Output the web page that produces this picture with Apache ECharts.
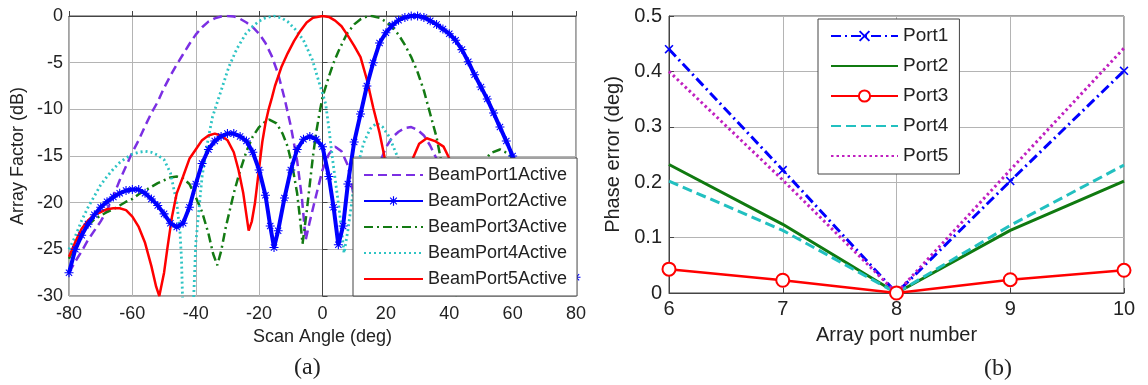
<!DOCTYPE html>
<html>
<head>
<meta charset="utf-8">
<script src="https://cdn.jsdelivr.net/npm/echarts@6/dist/echarts.min.js"></script>
<style>
html,body{margin:0;padding:0;background:#fff;}
#c{width:1148px;height:385px;}
</style>
</head>
<body>
<div id="c"></div>
<script>
// ---------- (a) Array factor vs scan angle : [angle (deg), AF (dB)] ----------
const beamNames = ['BeamPort1Active','BeamPort2Active','BeamPort3Active','BeamPort4Active','BeamPort5Active'];

const beamPort1 = [[-80,-27.5],[-78,-26.3],[-76,-25.2],[-74,-24],[-72,-23],[-70,-22],[-68,-20.8],[-66,-19.3],[-64,-17.6],[-62,-16.1],[-60,-14.6],[-58,-13.3],[-56,-11.8],[-54,-10.4],[-52,-9.2],[-50,-7.7],[-48,-6.4],[-46,-5.2],[-44,-4.1],[-42,-3],[-40,-2],[-38,-1.2],[-36,-0.6],[-34,-0.25],[-32,-0.05],[-30,0],[-28,-0.05],[-26,-0.3],[-24,-0.7],[-22,-1.2],[-20,-1.9],[-18,-2.9],[-16,-4.3],[-14,-6.2],[-12,-8.8],[-10,-11.8],[-8,-15.5],[-6.5,-19.5],[-5.3,-24],[-4,-22],[-2,-19.2],[0,-16.5],[2,-14.8],[4,-14],[6,-14.5],[8,-16],[10,-19.5],[12,-24],[14,-27],[16,-20],[18,-15.8],[20,-14.1],[22,-13],[24,-12.4],[26,-12],[28,-11.9],[30,-12.2],[32,-12.8],[34,-13.9],[36,-15.3],[38,-18],[40,-22],[42,-27],[45,-21],[50,-17.5],[55,-16.5],[60,-17.5],[65,-20],[70,-23.5],[75,-25.5],[80,-27]];

const beamPort2 = [[-80,-27.5],[-78,-25],[-76,-23.5],[-74,-22.3],[-72,-21.3],[-70,-20.5],[-68,-19.9],[-66,-19.4],[-64,-19],[-62,-18.7],[-60,-18.6],[-58,-18.6],[-56,-19],[-54,-19.6],[-52,-20.3],[-50,-21.2],[-48,-22.2],[-46,-22.6],[-44,-22.2],[-42,-20.5],[-40,-18],[-38,-15.8],[-36,-14.3],[-34,-13.4],[-32,-12.9],[-30,-12.6],[-28,-12.6],[-26,-12.9],[-24,-13.4],[-22,-14.6],[-20,-16.5],[-18,-19.2],[-16.5,-22.5],[-15.3,-24.8],[-14,-23],[-12,-19.5],[-10,-16.5],[-8,-14.3],[-6,-13.2],[-4,-12.9],[-2,-13.2],[0,-14],[2,-17.2],[3.5,-20.5],[5,-24.5],[6.5,-22.5],[8,-18],[10,-13.5],[12,-10.5],[14,-7.5],[16,-5],[18,-2.9],[20,-1.8],[22,-1],[24,-0.45],[26,-0.15],[28,0],[30,0],[32,-0.15],[34,-0.5],[36,-0.9],[38,-1.4],[40,-1.9],[42,-2.6],[44,-3.6],[46,-4.9],[48,-6.3],[50,-7.6],[52,-8.9],[54,-10.4],[56,-11.9],[58,-13.4],[60,-15],[62,-16.8],[64,-18.5],[66,-20],[68,-21.5],[70,-23],[72,-24],[75,-25.2],[78,-26.6],[80,-28]];

const beamPort3 = [[-80,-26],[-78,-24.5],[-76,-23.3],[-74,-22.4],[-72,-21.8],[-70,-21.4],[-68,-21],[-66,-20.7],[-64,-20.3],[-62,-19.9],[-60,-19.6],[-58,-19.1],[-56,-18.7],[-54,-18.3],[-52,-17.9],[-50,-17.6],[-48,-17.3],[-46,-17.2],[-44,-17.4],[-42,-18],[-40,-19.4],[-38,-21],[-36,-23.3],[-34.5,-25.5],[-33.2,-26.7],[-32,-25.2],[-30.5,-22.6],[-28,-19],[-26.3,-16.9],[-24,-14.5],[-22,-12.9],[-20,-11.9],[-18,-11.3],[-16.8,-11.1],[-14.5,-11.5],[-12.6,-12.6],[-11,-14],[-9.5,-16.1],[-8,-19],[-7,-22],[-6.3,-24.4],[-5,-21],[-4,-18],[-3,-15],[-2,-12.5],[-1,-10.5],[0,-8.7],[2,-6.5],[3.4,-5.1],[5,-3.8],[7.7,-1.9],[10,-0.9],[12,-0.35],[14,-0.05],[15.6,0],[18,-0.2],[20,-0.6],[22,-1.2],[24,-2],[26,-3.1],[28,-4.4],[30,-6],[32,-8],[34,-10.5],[36,-13],[38,-16.5],[40,-22],[42,-30],[44,-24],[47,-18.5],[50,-16],[53,-14.7],[56,-14.3],[59,-14.8],[62,-16.5],[66,-19],[70,-21],[75,-23.5],[80,-26]];

const beamPort4 = [[-80,-25],[-78,-23.6],[-76,-21.9],[-74,-20.5],[-72,-19.3],[-70,-18.1],[-68,-17.2],[-66,-16.4],[-64,-15.7],[-62,-15.2],[-60,-14.8],[-58,-14.6],[-56,-14.5],[-54,-14.6],[-52,-14.9],[-50,-15.4],[-48,-16.8],[-46,-20],[-45,-23],[-44.5,-26],[-43.8,-35],[-41.2,-35],[-40,-24.4],[-38,-17.2],[-36,-13],[-34.7,-10.8],[-32,-8],[-29.5,-5.4],[-27,-3.5],[-24.2,-1.9],[-22,-1.1],[-20,-0.55],[-18,-0.2],[-15.3,0],[-13,-0.2],[-11,-0.6],[-8.4,-1.5],[-6,-2.6],[-3.2,-4.7],[-1,-7.2],[1,-9.4],[2,-12],[3.2,-15.4],[4.2,-18],[5.3,-20.8],[6.8,-25.4],[8,-23],[9,-20.5],[10,-18],[11.6,-15.4],[13,-13.6],[15,-12.1],[17,-11.5],[19,-11.9],[21,-12.9],[23.7,-15.1],[26,-18],[29,-25],[33,-20],[38,-18],[44,-22],[48,-27],[53,-22],[60,-23],[70,-26],[80,-28]];

const beamPort5 = [[-80,-25.8],[-78,-24.2],[-76,-22.8],[-74,-21.9],[-72,-21.3],[-70,-21],[-68,-20.7],[-66,-20.6],[-64,-20.6],[-62,-20.8],[-60,-21.5],[-58,-22.6],[-56,-24.3],[-54,-26.8],[-52.5,-29],[-51.5,-30],[-50,-27.5],[-49,-25],[-47.5,-21.5],[-46,-19],[-44,-17.2],[-42,-15.3],[-40,-14.3],[-38,-13.3],[-36,-12.8],[-34,-12.6],[-32,-12.8],[-30,-13.3],[-28,-14.6],[-26.5,-16.5],[-25,-19],[-23.3,-23],[-22.3,-22],[-21.3,-20],[-20,-16.3],[-19,-13.5],[-18,-11.5],[-17,-10],[-16,-8.8],[-15,-7.5],[-13,-5.5],[-11,-4],[-9,-2.7],[-7,-1.6],[-5,-0.7],[-3,-0.2],[0,0],[2,-0.1],[4,-0.5],[6,-1.1],[8,-2.1],[10,-3.2],[12,-4.4],[14,-6.8],[16,-9.8],[18,-12.5],[19.5,-15],[21,-19],[23,-26],[25,-22],[27,-17],[28.7,-15.1],[30.5,-13.7],[32.9,-13.1],[35.5,-13.4],[38.2,-14],[39.8,-15.1],[42,-17.5],[45,-23],[48,-29],[52,-23],[56,-20],[60,-19.5],[65,-20.5],[70,-22.5],[75,-24.5],[80,-26.7]];

const angleTicks = {min:-80, max:80, interval:20};
const dbTicks = {min:-30, max:0, interval:5};

// ---------- (b) Phase error vs array port number ----------
const portNames = ['Port1','Port2','Port3','Port4','Port5'];
const arrayPorts = [6,7,8,9,10];
const port1 = [0.44, 0.222, 0, 0.202, 0.401];
const port2 = [0.232, 0.124, 0, 0.113, 0.202];
const port3 = [0.043, 0.023, 0, 0.024, 0.041];
const port4 = [0.202, 0.113, 0, 0.122, 0.231];
const port5 = [0.40, 0.204, 0, 0.222, 0.442];

const FONT = 'Liberation Sans, Arial, sans-serif';
const starPath = 'path://M-0.6,-5L0.6,-5L0.6,5L-0.6,5Z M-5,-0.6L5,-0.6L5,0.6L-5,0.6Z M-3.9,-3.1L-3.1,-3.9L3.9,3.1L3.1,3.9Z M3.1,-3.9L3.9,-3.1L-3.1,3.9L-3.9,3.1Z';
const xPath = 'path://M-4,-3L-3,-4L4,3L3,4Z M3,-4L4,-3L-3,4L-4,3Z';

function pairs(xs, ys){ return xs.map((x,i)=>[x, ys[i]]); }

const chart = echarts.init(document.getElementById('c'), null, {renderer:'canvas'});

function valueAxis(gridIndex, t, opts){
  return Object.assign({
    type:'value', gridIndex, min:t.min, max:t.max, interval:t.interval,
    axisLine:{show:true, lineStyle:{color:'#444', width:1}},
    axisTick:{show:true, inside:true, length:5, lineStyle:{color:'#444'}},
    splitLine:{show:true, lineStyle:{color:'#b4b4b4', width:1}},
    axisLabel:{color:'#222', fontFamily:FONT},
    nameLocation:'middle',
    nameTextStyle:{color:'#222', fontFamily:FONT}
  }, opts);
}

const beamStyles = [
  {color:'#7b2fe3', type:[9,5], width:2.5},
  {color:'#0000ff', type:'solid', width:4},
  {color:'#137a13', type:[9,4,2,4], width:2.5},
  {color:'#2ec4c4', type:[2,3], width:2.8},
  {color:'#ff0000', type:'solid', width:2.5}
];
const beamData = [beamPort1, beamPort2, beamPort3, beamPort4, beamPort5];
const beamSeries = beamData.map((d,i)=>({
  name: beamNames[i], type:'line', xAxisIndex:0, yAxisIndex:0,
  data: d,
  symbol: i===1 ? starPath : 'none',
  symbolSize: 9,
  showSymbol: i===1,
  itemStyle:{color: beamStyles[i].color},
  lineStyle:{color: beamStyles[i].color, type: beamStyles[i].type, width: beamStyles[i].width},
  clip:true, animation:false, z: i===1 ? 3 : 2
}));

const portStyles = [
  {color:'#0000ff', type:[10,4,2,4], width:3, symbol:xPath, size:9},
  {color:'#107a10', type:'solid', width:3, symbol:'none', size:0},
  {color:'#ff0000', type:'solid', width:2.5, symbol:'emptyCircle', size:13},
  {color:'#22c0c0', type:[10,5], width:3, symbol:'none', size:0},
  {color:'#c020c0', type:[2.5,3], width:3, symbol:'none', size:0}
];
const portData = [port1, port2, port3, port4, port5];
const portSeries = portData.map((d,i)=>({
  name: portNames[i], type:'line', xAxisIndex:1, yAxisIndex:1,
  data: pairs(arrayPorts, d),
  symbol: portStyles[i].symbol, symbolSize: portStyles[i].size,
  showSymbol: portStyles[i].symbol !== 'none',
  itemStyle:{color: portStyles[i].color, borderWidth: i===2 ? 2.5 : 0, borderColor: portStyles[i].color},
  lineStyle:{color: portStyles[i].color, type: portStyles[i].type, width: portStyles[i].width},
  animation:false, z: 2
}));

// legend items: hide the marker for series drawn without markers
const beamLegendData = beamNames.map((n,i)=> i===1 ? {name:n} : {name:n, itemStyle:{opacity:0}});
const portLegendData = portNames.map((n,i)=> (i===0 || i===2) ? {name:n} : {name:n, itemStyle:{opacity:0}});

chart.setOption({
  backgroundColor:'#ffffff',
  animation:false,
  grid:[
    {left:69, top:16, width:507, height:280, show:true, borderColor:'#444', borderWidth:1, backgroundColor:'transparent'},
    {left:669, top:16, width:455, height:277, show:true, borderColor:'#444', borderWidth:1, backgroundColor:'transparent'}
  ],
  xAxis:[
    valueAxis(0, angleTicks, {name:'Scan Angle (deg)', nameGap:31, axisLabel:{color:'#222', fontFamily:FONT, fontSize:18, margin:9}, nameTextStyle:{color:'#222', fontFamily:FONT, fontSize:18}}),
    valueAxis(1, {min:6, max:10, interval:1}, {name:'Array port number', nameGap:32, axisLabel:{color:'#222', fontFamily:FONT, fontSize:20, margin:6}, nameTextStyle:{color:'#222', fontFamily:FONT, fontSize:20}})
  ],
  yAxis:[
    valueAxis(0, dbTicks, {name:'Array Factor (dB)', nameGap:42, axisLabel:{color:'#222', fontFamily:FONT, fontSize:18, margin:6}, nameTextStyle:{color:'#222', fontFamily:FONT, fontSize:18}}),
    valueAxis(1, {min:0, max:0.5, interval:0.1}, {name:'Phase error (deg)', nameGap:46, axisLabel:{color:'#222', fontFamily:FONT, fontSize:20, margin:7}, nameTextStyle:{color:'#222', fontFamily:FONT, fontSize:20}})
  ],
  legend:[
    {
      data: beamLegendData, orient:'vertical', left:353, top:158,
      itemWidth:59, itemHeight:12, itemGap:8,
      padding:[8,10,8,10],
      backgroundColor:'#ffffff', borderColor:'#444', borderWidth:1, borderRadius:0,
      textStyle:{fontFamily:FONT, fontSize:18, color:'#222', lineHeight:18},
      selectedMode:false, z:10
    },
    {
      data: portLegendData, orient:'vertical', left:818, top:19,
      itemWidth:67, itemHeight:14, itemGap:10,
      padding:[7,11,8,12],
      backgroundColor:'#ffffff', borderColor:'#444', borderWidth:1, borderRadius:0,
      textStyle:{fontFamily:FONT, fontSize:19, color:'#222', lineHeight:20},
      selectedMode:false, z:10
    }
  ],
  graphic:[
    {type:'text', style:{text:'(a)', font:'24px "Liberation Serif", serif', fill:'#222'}, left:294, top:356},
    {type:'text', style:{text:'(b)', font:'24px "Liberation Serif", serif', fill:'#222'}, left:984, top:357}
  ],
  series: beamSeries.concat(portSeries)
});
</script>
</body>
</html>
